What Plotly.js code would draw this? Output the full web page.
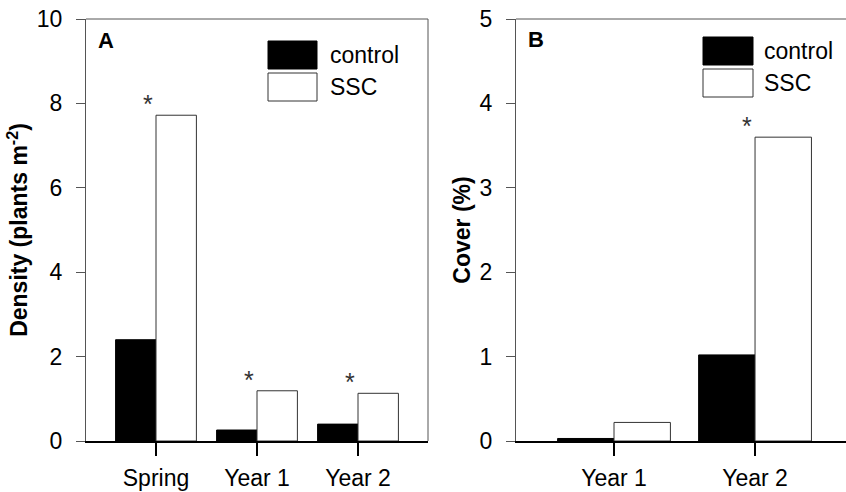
<!DOCTYPE html>
<html>
<head>
<meta charset="utf-8">
<script src="https://cdn.plot.ly/plotly-3.0.1.min.js"></script>
<style>html,body{margin:0;padding:0;background:#fff;}#chart{width:846px;height:492px;}</style>
</head>
<body>
<div id="chart"></div>
<script>
// ---- Data ----
const categoriesA = ['Spring', 'Year 1', 'Year 2'];
const controlA = [2.40, 0.26, 0.40];
const sscA = [7.72, 1.19, 1.13];
const sigA = [true, true, true];

const categoriesB = ['Year 1', 'Year 2'];
const controlB = [0.03, 1.02];
const sscB = [0.22, 3.60];
const sigB = [false, true];

const ticksA = [0, 2, 4, 6, 8, 10];
const ticksB = [0, 1, 2, 3, 4, 5];
const seriesNames = ['control', 'SSC'];

// ---- Layout helpers ----
const W = 846, H = 492, T = 19, B = 51;
const px = v => v / W;
const py = v => 1 - (v - T) / (H - T - B);
const FONT = 'Liberation Sans, Arial, sans-serif';
const FS = 23;

const traces = [
  {type: 'bar', x: categoriesA, y: controlA, name: seriesNames[0], xaxis: 'x', yaxis: 'y',
   marker: {color: '#000', line: {color: '#000', width: 1}}, showlegend: false},
  {type: 'bar', x: categoriesA, y: sscA, name: seriesNames[1], xaxis: 'x', yaxis: 'y',
   marker: {color: '#fff', line: {color: '#333', width: 1}}, showlegend: false},
  {type: 'bar', x: categoriesB, y: controlB, name: seriesNames[0], xaxis: 'x2', yaxis: 'y2',
   marker: {color: '#000', line: {color: '#000', width: 1}}, showlegend: false},
  {type: 'bar', x: categoriesB, y: sscB, name: seriesNames[1], xaxis: 'x2', yaxis: 'y2',
   marker: {color: '#fff', line: {color: '#333', width: 1}}, showlegend: false}
];

const annotations = [];
const star = (xref, yref, c, v) => ({xref: xref, yref: yref, x: c, y: v, text: '*', showarrow: false, xshift: -8, yshift: -5,
  yanchor: 'bottom', font: {size: 25, family: FONT, color: '#333'}});
categoriesA.forEach((c, i) => { if (sigA[i]) annotations.push(star('x', 'y', c, sscA[i])); });
categoriesB.forEach((c, i) => { if (sigB[i]) annotations.push(star('x2', 'y2', c, sscB[i])); });

// panel letters
annotations.push({xref: 'paper', yref: 'paper', x: px(96), y: py(40.5), text: '<b>A</b>', showarrow: false, xanchor: 'left', yanchor: 'middle', font: {size: 22, family: FONT, color: '#000'}});
annotations.push({xref: 'paper', yref: 'paper', x: px(526), y: py(39), text: '<b>B</b>', showarrow: false, xanchor: 'left', yanchor: 'middle', font: {size: 22, family: FONT, color: '#000'}});

// legend boxes and labels
const legA = {x0: 268, x1: 317, y: [[41, 69], [73, 101]], tx: 328};
const legB = {x0: 703, x1: 753, y: [[37, 65], [69, 97]], tx: 762};
const shapes = [];
[legA, legB].forEach(L => {
  seriesNames.forEach((n, k) => {
    shapes.push({type: 'rect', xref: 'paper', yref: 'paper', x0: px(L.x0), x1: px(L.x1), y0: py(L.y[k][1]), y1: py(L.y[k][0]),
      fillcolor: k === 0 ? '#000' : '#fff', line: {color: k === 0 ? '#000' : '#333', width: 1}});
    annotations.push({xref: 'paper', yref: 'paper', x: px(L.tx), y: py((L.y[k][0] + L.y[k][1]) / 2), text: n, showarrow: false,
      xanchor: 'left', yanchor: 'middle', font: {size: FS, family: FONT, color: '#000'}});
  });
});

// frame lines (top of both, right of A)
shapes.push({type: 'line', xref: 'x domain', yref: 'y domain', x0: 0, x1: 1, y0: 1, y1: 1, line: {color: '#555', width: 1}});
shapes.push({type: 'line', xref: 'x domain', yref: 'y domain', x0: 1, x1: 1, y0: 0, y1: 1, line: {color: '#555', width: 1}});
shapes.push({type: 'line', xref: 'x2 domain', yref: 'y2 domain', x0: 0, x1: 1, y0: 1, y1: 1, line: {color: '#555', width: 1}});

const xCommon = {type: 'category', showline: true, linecolor: '#000', linewidth: 2, ticks: 'outside', ticklen: 13, tickwidth: 2, tickcolor: '#000',
  showgrid: false, zeroline: false, fixedrange: true, tickfont: {size: FS, family: FONT, color: '#000'}, ticklabelstandoff: 2};
const yCommon = {showline: true, linecolor: '#555', linewidth: 1, ticks: 'outside', ticklen: 9, tickwidth: 1, tickcolor: '#555',
  showgrid: false, zeroline: false, fixedrange: true, tickfont: {size: FS, family: FONT, color: '#000'}, ticklabelstandoff: 9};

const layout = {
  width: W, height: H,
  margin: {l: 0, r: 0, t: T, b: B},
  paper_bgcolor: '#fff', plot_bgcolor: '#fff',
  barmode: 'group', bargap: 0.2, bargroupgap: 0,
  showlegend: false,
  font: {family: FONT, color: '#000'},
  xaxis: Object.assign({}, xCommon, {domain: [px(86), px(428)], anchor: 'y', range: [-0.693, 2.693]}),
  yaxis: Object.assign({}, yCommon, {domain: [0, 1], anchor: 'x', range: [0, 10], tickvals: ticksA, ticktext: ticksA.map(String),
    title: {text: '<b>Density (plants m<sup>-2</sup>)</b>', font: {size: FS, family: FONT, color: '#000'}, standoff: 2}}),
  xaxis2: Object.assign({}, xCommon, {domain: [px(516), 1], anchor: 'y2', range: [-0.695, 1.645]}),
  yaxis2: Object.assign({}, yCommon, {domain: [0, 1], anchor: 'x2', range: [0, 5], tickvals: ticksB, ticktext: ticksB.map(String),
    title: {text: '<b>Cover (%)</b>', font: {size: FS, family: FONT, color: '#000'}, standoff: 2}}),
  shapes: shapes,
  annotations: annotations
};

Plotly.newPlot('chart', traces, layout, {staticPlot: true, displayModeBar: false});
</script>
</body>
</html>
